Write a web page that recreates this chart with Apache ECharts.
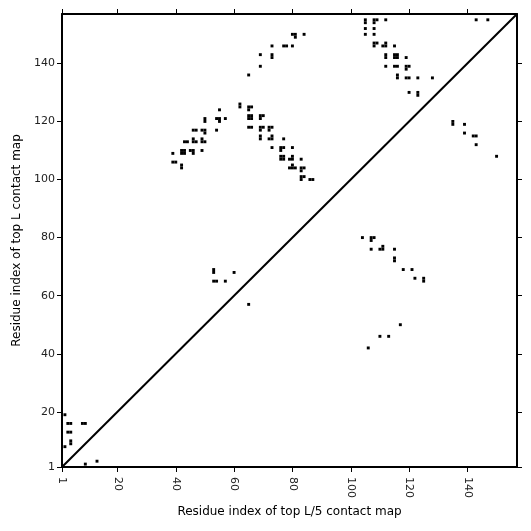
<!DOCTYPE html>
<html>
<head>
<meta charset="utf-8">
<script src="https://cdn.jsdelivr.net/npm/echarts@6/dist/echarts.min.js"></script>
<style>html,body{margin:0;padding:0;background:#fff}#c{width:531px;height:531px}</style>
</head>
<body>
<div id="c"></div>
<script>
// Axis range (residue indices)
const axisMin = 1;
const axisMax = 157;
const tickValues = [1, 20, 40, 60, 80, 100, 120, 140];
const xAxisName = 'Residue index of top L/5 contact map';
const yAxisName = 'Residue index of top L contact map';

// Contacts above the diagonal (top L contact map): [i, j]
const upperContacts = [
  [2,19],[3,16],[4,16],[8,16],[9,16],[3,13],[4,13],[4,10],[4,9],[2,8],
  [39,109],[39,106],[40,106],[42,105],[42,104],
  [42,109],[43,109],[42,110],[43,110],[45,110],[46,110],[46,109],[49,110],
  [43,113],[44,113],[46,114],[46,113],[47,113],[49,114],[49,113],[50,113],
  [46,117],[47,117],[49,117],[50,117],[50,116],[54,117],
  [50,121],[50,120],[54,121],[55,121],[55,120],[57,121],[55,124],
  [62,126],[62,125],[65,125],[66,125],[65,124],
  [65,122],[66,122],[65,121],[66,121],[69,122],[70,122],[69,121],
  [65,118],[66,118],[69,118],[70,118],[69,117],[72,118],[73,118],[72,117],
  [69,115],[69,114],[73,115],[72,114],[73,114],[77,114],
  [73,111],[76,111],[77,111],[76,110],[80,111],
  [76,107],[77,107],[76,108],[77,108],[80,108],[79,107],[80,107],[83,107],
  [79,104],[80,104],[81,104],[80,105],[83,104],[84,104],[83,103],
  [83,101],[84,101],[83,100],[86,100],[87,100],
  [65,136],[69,143],[69,139],[73,146],[73,143],[73,142],[77,146],[78,146],[80,146],
  [80,150],[81,150],[81,149],[84,150],
  [105,155],[105,154],[108,155],[109,155],[108,154],[112,155],
  [105,152],[108,152],[105,150],[108,150],
  [108,147],[109,147],[108,146],[112,147],[111,146],[112,146],[115,146],
  [112,143],[112,142],[115,143],[116,143],[115,142],[116,142],[119,142],
  [112,139],[115,139],[116,139],[119,139],[120,139],[119,138],
  [116,136],[116,135],[119,135],[120,135],[123,135],[128,135],
  [120,130],[123,130],[123,129],
  [143,155],[147,155]
];

// Contacts below the diagonal (top L/5 contact map): [i, j]
const lowerContacts = [
  [9,2],[13,3],
  [53,69],[53,68],[60,68],[53,65],[54,65],[57,65],[65,57],
  [104,80],[107,80],[108,80],[107,79],[107,76],[111,77],[110,76],[111,76],[115,76],
  [115,73],[115,72],[118,69],[121,69],[122,66],[125,66],[125,65],
  [117,50],[110,46],[113,46],[106,42],
  [135,120],[135,119],[139,119],[139,116],[142,115],[143,115],[143,112],[150,108]
];

const chart = echarts.init(document.getElementById('c'), null, {renderer: 'canvas'});
const font = 'DejaVu Sans';

function cellItem(params, api) {
  const i = api.value(0), j = api.value(1);
  const p0 = api.coord([i - 0.5, j + 0.5]);
  const p1 = api.coord([i + 0.5, j - 0.5]);
  const rect = echarts.graphic.clipRectByRect({
    x: p0[0], y: p0[1], width: p1[0] - p0[0], height: p1[1] - p0[1]
  }, {
    x: params.coordSys.x, y: params.coordSys.y,
    width: params.coordSys.width, height: params.coordSys.height
  });
  return rect && { type: 'rect', shape: rect, style: { fill: '#000' } };
}

const baseAxis = {
  type: 'value', min: axisMin, max: axisMax,
  splitLine: { show: false },
  axisLine: { show: true, onZero: false, lineStyle: { color: '#000', width: 2 } },
  axisTick: { show: true, inside: false, length: 5, customValues: tickValues, lineStyle: { color: '#000', width: 1 } },
};

chart.setOption({
  animation: false,
  backgroundColor: '#fff',
  grid: { left: 62, right: 14, top: 14, bottom: 64, containLabel: false },
  xAxis: [
    Object.assign({}, baseAxis, {
      position: 'bottom',
      name: xAxisName, nameLocation: 'middle', nameGap: 38,
      nameTextStyle: { fontFamily: font, fontSize: 12, color: '#000' },
      axisLabel: { show: true, customValues: tickValues, rotate: -90, margin: 10, fontFamily: font, fontSize: 11, color: '#222' }
    }),
    Object.assign({}, baseAxis, { position: 'top', axisLabel: { show: false } })
  ],
  yAxis: [
    Object.assign({}, baseAxis, {
      position: 'left',
      name: yAxisName, nameLocation: 'middle', nameGap: 33,
      nameTextStyle: { fontFamily: font, fontSize: 12, color: '#000' },
      axisLabel: { show: true, customValues: tickValues, margin: 7, fontFamily: font, fontSize: 11, color: '#222' }
    }),
    Object.assign({}, baseAxis, { position: 'right', axisLabel: { show: false } })
  ],
  series: [
    {
      type: 'line', xAxisIndex: 0, yAxisIndex: 0,
      data: [[axisMin, axisMin], [axisMax, axisMax]],
      symbol: 'none', lineStyle: { color: '#000', width: 2 }, silent: true
    },
    { type: 'custom', renderItem: cellItem, data: upperContacts, xAxisIndex: 0, yAxisIndex: 0 },
    { type: 'custom', renderItem: cellItem, data: lowerContacts, xAxisIndex: 0, yAxisIndex: 0 }
  ]
});
</script>
</body>
</html>
